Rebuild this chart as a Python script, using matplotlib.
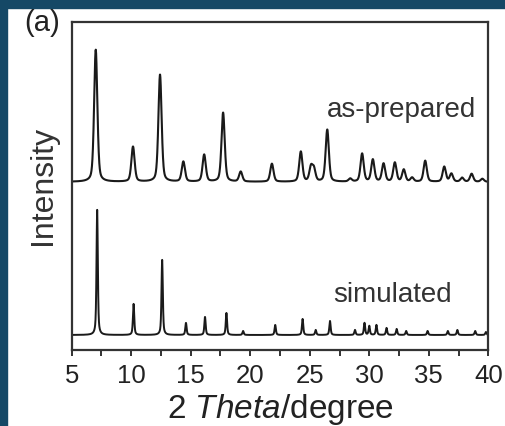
import matplotlib
matplotlib.use('Agg')
import matplotlib.pyplot as plt
import numpy as np

plt.rcParams['font.family'] = ['Liberation Sans', 'DejaVu Sans']
plt.rcParams['mathtext.fontset'] = 'custom'
plt.rcParams['mathtext.rm'] = 'Liberation Sans'
plt.rcParams['mathtext.it'] = 'Liberation Sans:italic'

# peak positions (2 theta) and heights
prep_pos = [7.02, 10.15, 12.42, 14.38, 16.13, 17.72, 19.2, 21.82, 24.25,
            25.1, 25.35, 26.47, 28.4, 29.4, 30.3, 31.2, 32.15, 32.9, 33.6,
            34.7, 36.3, 36.9, 37.8, 38.6, 39.5]
prep_hgt = [132, 35, 107, 20, 27, 69, 10, 18, 30,
            14, 12, 52, 3, 28, 22, 18, 19, 12, 4,
            21, 15, 8, 4, 8, 3]

sim_pos = [7.14, 10.2, 12.6, 14.6, 16.2, 18.0, 19.4, 22.1, 24.4, 25.5,
           26.7, 28.8, 29.6, 30.0, 30.6, 31.45, 32.3, 33.1, 34.9, 36.6,
           37.4, 38.9, 39.8]
sim_hgt = [125, 31, 75, 12, 18, 22, 4, 10, 16, 5,
           14, 5, 12, 9, 10, 7, 6, 4, 4, 4,
           5, 4, 3]

prep_base = 168
sim_base = 15


def pseudo_voigt(x, pos, hgt, fwhm, eta=0.5):
    y = np.zeros_like(x)
    for p, h in zip(pos, hgt):
        d = (x - p) / (fwhm / 2)
        lor = 1 / (1 + d ** 2)
        gau = np.exp(-np.log(2) * d ** 2)
        y += h * (eta * lor + (1 - eta) * gau)
    return y


x = np.linspace(5, 40, 3501)
y_prep = prep_base + pseudo_voigt(x, prep_pos, prep_hgt, 0.32, 0.4)
y_sim = sim_base + pseudo_voigt(x, sim_pos, sim_hgt, 0.13, 0.6)

fig = plt.figure(figsize=(5.06, 4.26), dpi=100)
fig.patch.set_facecolor('white')
# dark frame strips at top and left
fig.patches.append(plt.Rectangle((0, 1 - 8 / 426), 1, 8 / 426, transform=fig.transFigure,
                                 color='#154866', zorder=0))
fig.patches.append(plt.Rectangle((0, 0), 7 / 506, 1, transform=fig.transFigure,
                                 color='#154866', zorder=0))

ax = fig.add_axes([0.1417, 0.1784, 0.8233, 0.7706])
ax.plot(x, y_prep, color='#1a1a1a', lw=1.5)
ax.plot(x, y_sim, color='#1a1a1a', lw=1.4)

ax.set_xlim(5, 40)
ax.set_ylim(0, 328)
ax.set_xticks(np.arange(5, 41, 5))
ax.set_xticks(np.arange(7.5, 40, 5), minor=True)
ax.set_yticks([])
ax.tick_params(axis='x', which='both', direction='out', length=4, width=1.3,
               labelsize=18.5, pad=6, colors='#222222')
for s in ax.spines.values():
    s.set_linewidth(1.6)
    s.set_color('#333333')

ax.set_xlabel(r'2 $\mathit{Theta}$/degree', fontsize=24, labelpad=3, color='#222222')
ax.set_ylabel('Intensity', fontsize=23, labelpad=10, color='#333333')

fig.text(402 / 506, 1 - 110 / 426, 'as-prepared', fontsize=20, ha='center',
         va='center', color='#333333')
fig.text(393 / 506, 1 - 295 / 426, 'simulated', fontsize=20, ha='center',
         va='center', color='#333333')
fig.text(42 / 506, 1 - 23 / 426, '(a)', fontsize=21, ha='center', va='center',
         color='#222222')

fig.savefig('out.png', dpi=100)
